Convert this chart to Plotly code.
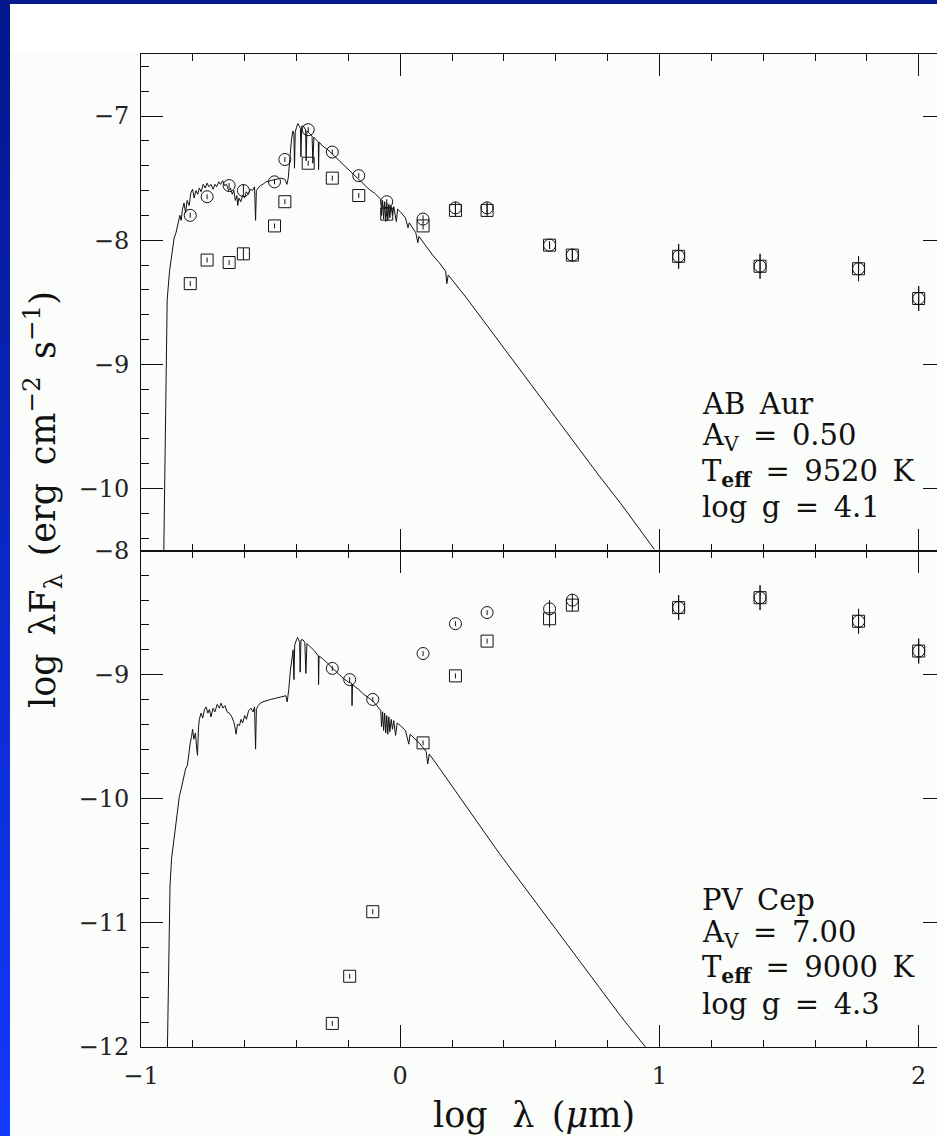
import plotly.graph_objects as go

# ---------------- data (log lambda in micron, log lambda*F_lambda in cgs) ----------------
# AB Aur: Kurucz model spectrum (Teff 9520 K, log g 4.1)
model_ab_x = [-0.912, -0.905, -0.899, -0.890, -0.879, -0.872, -0.865, -0.858, -0.850, -0.845,
              -0.840, -0.834, -0.828, -0.822, -0.814, -0.808, -0.801, -0.795, -0.788, -0.781,
              -0.775, -0.768, -0.760, -0.752, -0.745, -0.738, -0.730, -0.722, -0.715, -0.708,
              -0.700, -0.693, -0.685, -0.678, -0.670, -0.662, -0.655, -0.648, -0.642, -0.636,
              -0.630, -0.627, -0.622, -0.615, -0.608, -0.600, -0.594, -0.586, -0.578, -0.570,
              -0.562, -0.558, -0.555, -0.548, -0.540, -0.530, -0.518, -0.500, -0.480, -0.460,
              -0.445, -0.437, -0.432, -0.426, -0.420, -0.414, -0.410, -0.408, -0.405, -0.400,
              -0.395, -0.390, -0.385, -0.383, -0.380, -0.374, -0.370, -0.365, -0.363, -0.360,
              -0.350, -0.340, -0.337, -0.333, -0.325, -0.316, -0.315, -0.313, -0.300, -0.280,
              -0.260, -0.240, -0.220, -0.200, -0.180, -0.160, -0.140, -0.120, -0.100, -0.085,
              -0.075, -0.072, -0.068, -0.064, -0.060, -0.056, -0.052, -0.048, -0.044, -0.040,
              -0.036, -0.030, -0.025, -0.015, -0.010, 0.000, 0.020, 0.030, 0.035, 0.060,
              0.068, 0.072, 0.100, 0.125, 0.150, 0.175, 0.180, 0.185, 0.250, 0.300,
              0.382, 0.450, 0.510, 0.575, 0.639, 0.700, 0.768, 0.850, 0.920, 0.980]
model_ab_y = [-10.50, -9.60, -8.48, -8.25, -8.07, -7.98, -7.94, -7.88, -7.80, -7.84,
              -7.75, -7.70, -7.78, -7.68, -7.72, -7.62, -7.59, -7.66, -7.60, -7.63,
              -7.58, -7.61, -7.55, -7.58, -7.54, -7.57, -7.55, -7.59, -7.55, -7.57,
              -7.53, -7.55, -7.52, -7.56, -7.55, -7.60, -7.58, -7.63, -7.60, -7.68,
              -7.64, -7.72, -7.66, -7.69, -7.64, -7.66, -7.61, -7.63, -7.59, -7.60,
              -7.57, -7.84, -7.60, -7.58, -7.56, -7.55, -7.53, -7.52, -7.51, -7.50,
              -7.51, -7.55, -7.50, -7.33, -7.20, -7.12, -7.15, -7.42, -7.13, -7.09,
              -7.06, -7.08, -7.10, -7.33, -7.08, -7.08, -7.10, -7.11, -7.36, -7.12,
              -7.14, -7.16, -7.38, -7.17, -7.19, -7.21, -7.43, -7.21, -7.24, -7.27,
              -7.31, -7.35, -7.39, -7.43, -7.47, -7.51, -7.55, -7.59, -7.62, -7.65,
              -7.67, -7.80, -7.68, -7.83, -7.69, -7.85, -7.70, -7.84, -7.71, -7.82,
              -7.72, -7.80, -7.73, -7.85, -7.75, -7.77, -7.82, -7.90, -7.86, -7.94,
              -8.02, -7.97, -8.05, -8.12, -8.18, -8.25, -8.35, -8.28, -8.45, -8.59,
              -8.82, -9.01, -9.18, -9.36, -9.54, -9.71, -9.90, -10.12, -10.32, -10.49]

# AB Aur photometry: observed (squares) and dereddened (circles)
phot_ab_x = [-0.810, -0.745, -0.660, -0.605, -0.485, -0.445, -0.355, -0.262, -0.160, -0.052,
             0.088, 0.213, 0.335, 0.576, 0.664, 1.074, 1.388, 1.768, 2.000]
dered_ab_y = [-7.80, -7.65, -7.56, -7.60, -7.53, -7.35, -7.11, -7.29, -7.48, -7.69,
              -7.83, -7.74, -7.74, -8.04, -8.12, -8.13, -8.21, -8.23, -8.47]
obs_ab_y = [-8.35, -8.16, -8.18, -8.11, -7.885, -7.69, -7.38, -7.50, -7.64, -7.79,
            -7.885, -7.76, -7.76, -8.04, -8.12, -8.13, -8.21, -8.23, -8.47]
err_ab = [0.02, 0.02, 0.02, 0.05, 0.02, 0.02, 0.02, 0.02, 0.02, 0.02,
          0.03, 0.05, 0.05, 0.03, 0.05, 0.10, 0.10, 0.10, 0.10]

# PV Cep: Kurucz model spectrum (Teff 9000 K, log g 4.3)
model_pv_x = [-0.898, -0.894, -0.892, -0.888, -0.882, -0.876, -0.870, -0.865, -0.858, -0.852,
              -0.846, -0.840, -0.835, -0.828, -0.821, -0.815, -0.810, -0.805, -0.801, -0.796,
              -0.790, -0.785, -0.782, -0.778, -0.775, -0.768, -0.762, -0.755, -0.749, -0.742,
              -0.736, -0.730, -0.722, -0.715, -0.706, -0.698, -0.691, -0.684, -0.676, -0.668,
              -0.659, -0.650, -0.642, -0.636, -0.633, -0.628, -0.620, -0.614, -0.608, -0.600,
              -0.593, -0.585, -0.576, -0.568, -0.562, -0.558, -0.555, -0.548, -0.540, -0.530,
              -0.518, -0.500, -0.480, -0.460, -0.441, -0.436, -0.430, -0.424, -0.418, -0.413,
              -0.410, -0.407, -0.400, -0.396, -0.392, -0.388, -0.386, -0.383, -0.375, -0.368,
              -0.364, -0.360, -0.350, -0.340, -0.330, -0.316, -0.315, -0.313, -0.300, -0.280,
              -0.261, -0.240, -0.220, -0.200, -0.187, -0.186, -0.184, -0.160, -0.140, -0.120,
              -0.107, -0.090, -0.075, -0.072, -0.068, -0.064, -0.060, -0.056, -0.052, -0.048,
              -0.044, -0.040, -0.035, -0.030, -0.025, -0.018, -0.012, 0.000, 0.020, 0.033,
              0.038, 0.073, 0.100, 0.106, 0.112, 0.150, 0.200, 0.250, 0.300, 0.382,
              0.450, 0.510, 0.575, 0.639, 0.700, 0.768, 0.850, 0.946]
model_pv_y = [-12.00, -11.40, -11.00, -10.70, -10.48, -10.38, -10.25, -10.16, -10.08, -9.98,
              -9.93, -9.87, -9.83, -9.76, -9.73, -9.62, -9.55, -9.50, -9.44, -9.52,
              -9.47, -9.60, -9.65, -9.42, -9.36, -9.31, -9.35, -9.28, -9.26, -9.31,
              -9.28, -9.34, -9.27, -9.30, -9.24, -9.27, -9.23, -9.27, -9.25, -9.30,
              -9.31, -9.34, -9.38, -9.44, -9.48, -9.40, -9.41, -9.36, -9.39, -9.33,
              -9.36, -9.29, -9.27, -9.30, -9.26, -9.60, -9.28, -9.25, -9.23, -9.22,
              -9.21, -9.20, -9.19, -9.18, -9.17, -9.22, -9.12, -8.97, -8.85, -8.80,
              -9.04, -8.76, -8.72, -8.70, -8.72, -8.74, -8.98, -8.72, -8.72, -8.74,
              -8.99, -8.75, -8.77, -8.79, -8.81, -8.85, -9.08, -8.85, -8.87, -8.91,
              -8.95, -8.99, -9.03, -9.06, -9.07, -9.25, -9.08, -9.12, -9.16, -9.19,
              -9.21, -9.25, -9.29, -9.42, -9.30, -9.45, -9.31, -9.47, -9.33, -9.48,
              -9.34, -9.46, -9.36, -9.44, -9.37, -9.49, -9.39, -9.41, -9.45, -9.56,
              -9.48, -9.55, -9.62, -9.72, -9.64, -9.75, -9.90, -10.05, -10.20, -10.44,
              -10.63, -10.80, -10.98, -11.16, -11.33, -11.52, -11.75, -12.00]

# PV Cep photometry: observed (squares) and dereddened (circles)
phot_pv_x = [-0.262, -0.195, -0.106, 0.088, 0.213, 0.335, 0.576, 0.664, 1.074, 1.388, 1.768, 2.000]
dered_pv_y = [-8.95, -9.04, -9.20, -8.83, -8.59, -8.50, -8.47, -8.40, -8.46, -8.38, -8.57, -8.81]
obs_pv_y = [-11.81, -11.43, -10.91, -9.55, -9.01, -8.73, -8.55, -8.44, -8.46, -8.38, -8.57, -8.81]
err_pv = [0.02, 0.02, 0.02, 0.02, 0.02, 0.02, 0.07, 0.05, 0.10, 0.10, 0.10, 0.10]

# star parameters shown in each panel
label_ab = ["AB\u2002Aur", "A<sub>V</sub>\u2002=\u20020.50",
            "T<sub><b>eff</b></sub>\u2002=\u20029520\u2002K", "log\u2002g\u2002=\u20024.1"]
label_pv = ["PV\u2002Cep", "A<sub>V</sub>\u2002=\u20027.00",
            "T<sub><b>eff</b></sub>\u2002=\u20029000\u2002K", "log\u2002g\u2002=\u20024.3"]

x_range = [-1.0, 2.0706]
y_range_ab = [-10.5, -6.5]
y_range_pv = [-12.0, -8.0]

# ---------------- styling ----------------
FONT = "DejaVu Serif"
INK = "#111111"
W, H = 937, 1136
ML, MR, MT, MB = 141, 0, 54, 89

fig = go.Figure()

line_style = dict(color=INK, width=1)
err_style = dict(type="data", thickness=1, width=0, color=INK)


def add_panel(xa, ya, mx, my, px, obs, dered, err):
    fig.add_trace(go.Scatter(x=mx, y=my, mode="lines", line=line_style,
                             xaxis=xa, yaxis=ya, hoverinfo="skip"))
    fig.add_trace(go.Scatter(x=px, y=obs, mode="markers",
                             marker=dict(symbol="square-open", size=12, color=INK,
                                         line=dict(width=1, color=INK)),
                             error_y=dict(array=err, **err_style),
                             xaxis=xa, yaxis=ya))
    fig.add_trace(go.Scatter(x=px, y=dered, mode="markers",
                             marker=dict(symbol="circle-open", size=12, color=INK,
                                         line=dict(width=1, color=INK)),
                             error_y=dict(array=err, **err_style),
                             xaxis=xa, yaxis=ya))


add_panel("x2", "y2", model_ab_x, model_ab_y, phot_ab_x, obs_ab_y, dered_ab_y, err_ab)
add_panel("x", "y", model_pv_x, model_pv_y, phot_pv_x, obs_pv_y, dered_pv_y, err_pv)

# empty traces so the right-hand tick axes get drawn
fig.add_trace(go.Scatter(x=[], y=[], xaxis="x", yaxis="y3"))
fig.add_trace(go.Scatter(x=[], y=[], xaxis="x2", yaxis="y4"))

tickfont = dict(family=FONT, size=24, color="#222222")


def xaxis_style(show_labels):
    return dict(range=x_range, domain=[0, 1], dtick=1, tick0=0,
                ticks="inside", ticklen=22, tickwidth=1, tickcolor=INK,
                minor=dict(dtick=0.2, tick0=0, ticks="inside", ticklen=7,
                           tickwidth=1, tickcolor=INK),
                showline=True, linecolor=INK, linewidth=1, mirror="ticks",
                showgrid=False, zeroline=False, showticklabels=show_labels,
                tickfont=tickfont, ticklabelstandoff=7)


def yaxis_style(rng, dom):
    return dict(range=rng, domain=dom, dtick=1, tick0=0,
                ticks="inside", ticklen=22, tickwidth=1, tickcolor=INK,
                minor=dict(dtick=0.2, tick0=0, ticks="inside", ticklen=8,
                           tickwidth=1, tickcolor=INK),
                showline=True, linecolor=INK, linewidth=1, mirror=False,
                showgrid=False, zeroline=False, tickfont=tickfont,
                ticklabelstandoff=6)


def right_ticks(rng, over, anchor):
    return dict(range=rng, overlaying=over, side="right", anchor=anchor,
                dtick=1, tick0=0, ticks="inside", ticklen=14, tickwidth=1,
                tickcolor=INK, showline=False, showgrid=False, zeroline=False,
                showticklabels=False)


fig.update_layout(
    width=W, height=H,
    margin=dict(l=ML, r=MR, t=MT, b=MB),
    paper_bgcolor="white",
    plot_bgcolor="rgba(0,0,0,0)",
    showlegend=False,
    xaxis=xaxis_style(True),
    xaxis2=dict(xaxis_style(False), anchor="y2", matches="x"),
    yaxis=yaxis_style(y_range_pv, [0, 0.5]),
    yaxis2=dict(yaxis_style(y_range_ab, [0.5, 1]), anchor="x2"),
    yaxis3=right_ticks(y_range_pv, "y", "x"),
    yaxis4=right_ticks(y_range_ab, "y2", "x2"),
)
fig.update_layout(xaxis=dict(anchor="y"), yaxis=dict(anchor="x"))

# ---------------- frame: blue slide border and tinted plot sheet ----------------
shapes = []
# tinted sheet behind the plot
shapes.append(dict(type="rect", xref="paper", yref="paper", xsizemode="pixel", ysizemode="pixel",
                   xanchor=0, yanchor=1, x0=-131, x1=800, y0=-1100, y1=1,
                   fillcolor="#fbfdfb", line=dict(width=0), layer="below"))
# top band
shapes.append(dict(type="rect", xref="paper", yref="paper", xsizemode="pixel", ysizemode="pixel",
                   xanchor=0, yanchor=1, x0=-141, x1=800, y0=50, y1=54,
                   fillcolor="#04198f", line=dict(width=0), layer="above"))
# left band, dark navy at top to bright blue at bottom
n_steps = 40
top_rgb = (4, 22, 140)
bot_rgb = (18, 58, 255)
for i in range(n_steps):
    f = i / (n_steps - 1)
    c = tuple(int(round(a + (b - a) * f)) for a, b in zip(top_rgb, bot_rgb))
    y_top = 54 - i * (H / n_steps)
    shapes.append(dict(type="rect", xref="paper", yref="paper", xsizemode="pixel",
                       ysizemode="pixel", xanchor=0, yanchor=1, x0=-141, x1=-131,
                       y0=y_top - H / n_steps - 1, y1=y_top,
                       fillcolor="rgb(%d,%d,%d)" % c, line=dict(width=0), layer="above"))
fig.update_layout(shapes=shapes)

# ---------------- text ----------------
plot_w = W - ML - MR
plot_h = H - MT - MB


def px_to_paper(px, py):
    return (px - ML) / plot_w, (H - MB - py) / plot_h


annotations = []
for labels, centers in ((label_ab, [404, 437, 473, 507]), (label_pv, [900, 934, 969, 1004])):
    for text, cy in zip(labels, centers):
        ax, ay = px_to_paper(700, cy)
        annotations.append(dict(text=text, x=ax, y=ay, xref="paper", yref="paper",
                                xanchor="left", yanchor="middle", showarrow=False,
                                font=dict(family=FONT, size=29, color=INK)))

tx, ty = px_to_paper(534, 1115)
annotations.append(dict(text="log\u2002\u2009λ\u2002(<i>μ</i>m)", x=tx, y=ty,
                        xref="paper", yref="paper",
                        xanchor="center", yanchor="middle", showarrow=False,
                        font=dict(family=FONT, size=35, color=INK)))
yx, yy = px_to_paper(42, 500)
annotations.append(dict(text="log\u2002λF<sub>λ</sub>\u2002(erg\u2002cm<sup>−2</sup>\u2002s<sup>−1</sup>)",
                        x=yx, y=yy, xref="paper", yref="paper", textangle=-90,
                        xanchor="center", yanchor="middle", showarrow=False,
                        font=dict(family=FONT, size=35, color=INK)))
fig.update_layout(annotations=annotations)

fig.write_html("out.html")
